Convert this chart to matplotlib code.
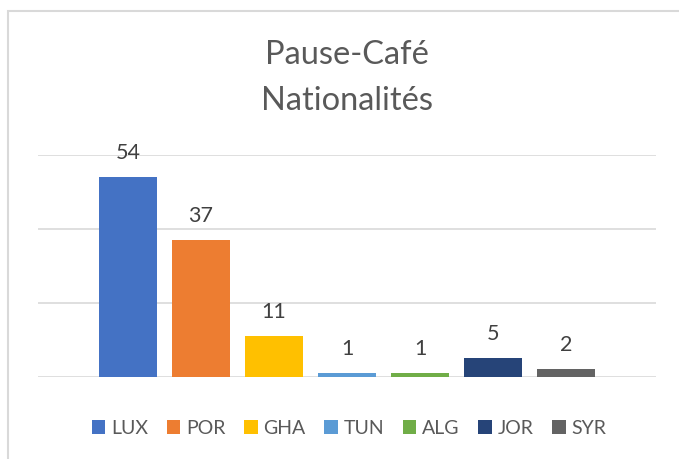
import matplotlib
matplotlib.use("Agg")
import matplotlib.pyplot as plt
from matplotlib.patches import Rectangle, Patch

categories = ["LUX", "POR", "GHA", "TUN", "ALG", "JOR", "SYR"]
values = [54, 37, 11, 1, 1, 5, 2]
colors = ["#4472C4", "#ED7D31", "#FFC000", "#5B9BD5", "#70AD47", "#264478", "#636363"]
title_lines = ["Pause-Café", "Nationalités"]

plt.rcParams['font.family'] = ['Lato', 'DejaVu Sans']
W, H = 679, 459
fig = plt.figure(figsize=(W / 100, H / 100), dpi=100)
fig.patch.set_facecolor("white")

# chart-area border (left/top visible)
fig.add_artist(Rectangle((8 / W, -0.1), 1.2, (H - 11) / H + 0.1, transform=fig.transFigure,
                         fill=False, edgecolor="#D9D9D9", linewidth=1.5))

ax = fig.add_axes([38 / W, (H - 376.7) / H, (656 - 38) / W, (376.7 - 155) / H])
x = list(range(len(categories)))
bars = ax.bar(x, values, width=0.795, color=colors, zorder=3)
ax.set_xlim(3 - 4.233, 3 + 4.233)
ax.set_ylim(0, 60)
ax.set_yticks([0, 20, 40, 60])
ax.grid(axis="y", color="#D9D9D9", linewidth=1.2, zorder=0)
ax.tick_params(left=False, bottom=False, labelleft=False, labelbottom=False)
for s in ax.spines.values():
    s.set_visible(False)

for b, v in zip(bars, values):
    ax.annotate(str(v), (b.get_x() + b.get_width() / 2, v), xytext=(0, 10),
                textcoords="offset points", ha="center", va="bottom",
                fontsize=15.5, color="#404040", clip_on=False)

fig.text(0.5 + 7 / W, (H - 55) / H, title_lines[0], ha="center", va="center", fontsize=23.5, color="#595959")
fig.text(0.5 + 7 / W, (H - 101) / H, title_lines[1], ha="center", va="center", fontsize=23.5, color="#595959")

handles = [Patch(facecolor=c, edgecolor="none") for c in colors]
fig.legend(handles, categories, loc="center", bbox_to_anchor=(349 / W, (H - 428) / H),
           ncol=7, frameon=False, fontsize=14, labelcolor="#595959",
           handlelength=0.7, handleheight=0.7, handletextpad=0.3, columnspacing=0.95)

fig.savefig("out.png", dpi=100, facecolor="white")
